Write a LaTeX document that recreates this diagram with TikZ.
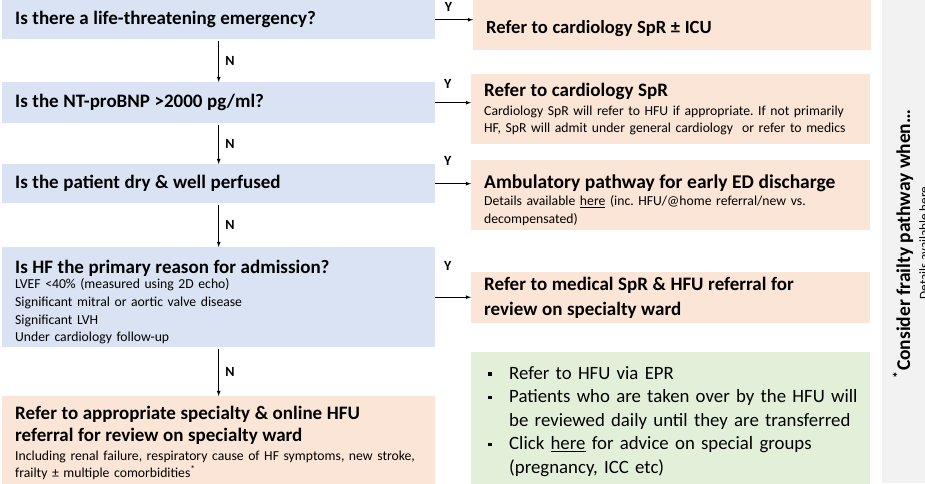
\documentclass[tikz,border=0pt]{standalone}
\usepackage{fontspec}
\setmainfont{Carlito}
\usetikzlibrary{positioning}
\frenchspacing
\definecolor{qblue}{HTML}{DAE3F3}
\definecolor{rsalmon}{HTML}{FBE5D6}
\definecolor{rgreen}{HTML}{E2F0D9}
\definecolor{sgrey}{HTML}{F2F2F2}
\newcommand{\ttl}{\bfseries\fontsize{19}{17}\selectfont}
\newcommand{\sml}{\mdseries\fontsize{13.7}{17.7}\selectfont}
\newcommand{\sqb}{\makebox[21pt][l]{\raisebox{3.5pt}{\rule{3.5pt}{3.5pt}}}}
\newcommand{\topstrut}[1]{\rule{0pt}{#1}}
\begin{document}
\begin{tikzpicture}[x=1pt, y=-1pt,
    box/.style={anchor=north west, align=left, inner xsep=13pt, inner ysep=0pt, font=\sml},
    qbox/.style={box, fill=qblue, text width=407pt},
    rbox/.style={box, fill=rsalmon, text width=373pt},
    lbl/.style={font=\bfseries\fontsize{14}{16}\selectfont}]
    \clip (0,0) rectangle (925,483);
    % right-hand frailty strip
    \fill [sgrey] (882,0) rectangle (930,483);
    \node [rotate=90, font=\bfseries\fontsize{19.5}{22}\selectfont] (frailty) at (903,244) {\textsuperscript{*}Consider frailty pathway when\ldots};
    \node [rotate=90, font=\fontsize{13}{15}\selectfont] (details) at (924,243) {Details available here};
    % questions
    \node [qbox, minimum height=39pt] (q1) at (2,0) {\ttl Is there a life-threatening emergency?};
    \node [qbox, minimum height=41pt] (q2) at (2,82) {\ttl Is the NT-proBNP >2000 pg/ml?};
    \node [qbox, minimum height=39pt] (q3) at (2,164) {\ttl Is the patient dry \& well perfused};
    \node [qbox, minimum height=100pt] (q4) at (2,247) {{\ttl\topstrut{23pt}Is HF the primary reason for admission?}\\[-2pt]
        LVEF <40\% (measured using 2D echo)\\
        Significant mitral or aortic valve disease\\
        Significant LVH\\
        Under cardiology follow-up};
    \node [box, fill=rsalmon, text width=407pt, minimum height=94pt] (q5) at (2,396) {{\ttl Refer to appropriate specialty \& online HFU\\[4pt]
        referral for review on specialty ward}\\[1pt]
        \mbox{Including renal failure, respiratory cause of HF symptoms, new stroke,}\\
        frailty ± multiple comorbidities\textsuperscript{*}};
    % outcomes
    \node [rbox, text width=372pt, minimum height=50pt] (r1) at (473,0) {\bfseries\fontsize{18.6}{17}\selectfont\topstrut{19.5pt}Refer to cardiology SpR ± ICU};
    \node [rbox, minimum height=70pt] (r2) at (471,74) {{\ttl Refer to cardiology SpR}\\[1pt]
        \mbox{Cardiology SpR will refer to HFU if appropriate. If not primarily}\\
        \mbox{HF, SpR will admit under general cardiology\ \ or refer to medics}};
    \node [rbox, minimum height=70pt] (r3) at (471,160) {{\bfseries\fontsize{19.5}{17}\selectfont\topstrut{24pt}Ambulatory pathway for early ED discharge}\\[-1pt]
        \mbox{Details available \underline{here} (inc. HFU/@home referral/new vs.}\\
        decompensated)};
    \node [rbox, minimum height=51pt] (r4) at (471,272) {\ttl Refer to medical SpR \& HFU referral for\\[7pt]
        review on specialty ward};
    \node [box, fill=rgreen, text width=365pt, inner xsep=17pt, minimum height=134pt,
        font=\fontsize{18.8}{23.5}\selectfont] (hfu) at (471,352) {\topstrut{17pt}\sqb Refer to HFU via EPR\\
        \mbox{\sqb Patients who are taken over by the HFU will}\\
        \mbox{\hspace*{21pt}be reviewed daily until they are transferred}\\
        \mbox{\sqb Click \underline{here} for advice on special groups}\\
        \hspace*{21pt}(pregnancy, ICC etc)};
    % N arrows
    \draw [thick, ->, >=latex, shorten <=2pt] (q1.south) -- (q2.north) node [lbl, midway, right=3pt] {N};
    \draw [thick, ->, >=latex, shorten <=2pt] (q2.south) -- (q3.north) node [lbl, midway, right=3pt] {N};
    \draw [thick, ->, >=latex, shorten <=2pt] (q3.south) -- (q4.north) node [lbl, midway, right=3pt] {N};
    \draw [thick, ->, >=latex, shorten <=2pt] (q4.south) -- (q5.north) node [lbl, midway, right=3pt] {N};
    % Y arrows
    \draw [thick, ->, >=latex] (q1.east) -- (q1.east -| r1.west) node [lbl, pos=0.35, above=4pt] {Y};
    \draw [thick, ->, >=latex] (q2.east) -- (q2.east -| r2.west) node [lbl, pos=0.35, above=10pt] {Y};
    \draw [thick, ->, >=latex] (q3.east) -- (q3.east -| r3.west) node [lbl, pos=0.35, above=14pt] {Y};
    \draw [thick, ->, >=latex] (q4.east) -- (q4.east -| r4.west) node [lbl, pos=0.35, above=23pt] {Y};
\end{tikzpicture}
\end{document}
